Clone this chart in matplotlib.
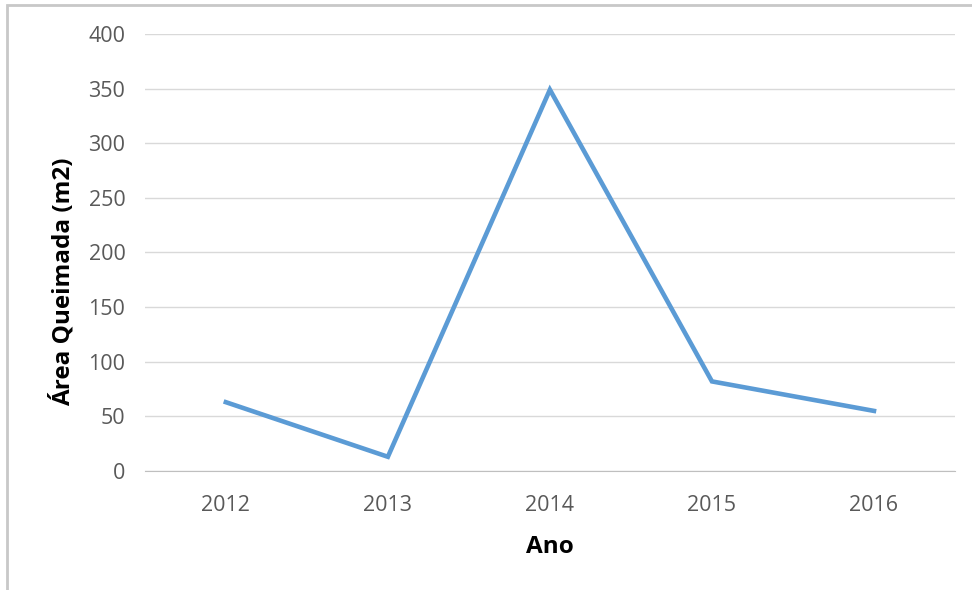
import matplotlib.pyplot as plt
from matplotlib.patches import Rectangle

# dados
anos = ["2012", "2013", "2014", "2015", "2016"]
area = [63, 13, 349, 82, 55]
yticks = [0, 50, 100, 150, 200, 250, 300, 350, 400]

plt.rcParams['font.family'] = ['Open Sans', 'DejaVu Sans']

fig = plt.figure(figsize=(9.72, 5.90), dpi=100)
ax = fig.add_axes([0.149, 0.2017, 0.8335, 0.7407])

x = list(range(len(anos)))
ax.plot(x, area, color="#5B9BD5", linewidth=3.3, solid_joinstyle="miter", zorder=3)

ax.set_xlim(-0.5, len(anos) - 0.5)
ax.set_ylim(0, 400)
ax.set_xticks(x)
ax.set_xticklabels(anos)
ax.set_yticks(yticks)
ax.grid(axis="y", color="#D9D9D9", linewidth=1)
ax.set_axisbelow(True)
for s in ["top", "right", "left"]:
    ax.spines[s].set_visible(False)
ax.spines["bottom"].set_color("#BFBFBF")
ax.tick_params(length=0, colors="#595959", labelsize=15.5)
ax.tick_params(axis="x", pad=17)
ax.tick_params(axis="y", pad=14)

ax.set_xlabel("Ano", fontsize=17.5, fontweight="bold", labelpad=14)
ax.set_ylabel("Área Queimada (m2)", fontsize=17.5, fontweight="bold")
ax.yaxis.set_label_coords(-0.086, 0.432)

# moldura do gráfico
fig.patches.append(Rectangle((7 / 972, -0.1), 1.2, 1 - 5 / 590 + 0.1,
                             transform=fig.transFigure, fill=False,
                             edgecolor="#C8C8C8", linewidth=2))

fig.savefig("out.png", dpi=100)
